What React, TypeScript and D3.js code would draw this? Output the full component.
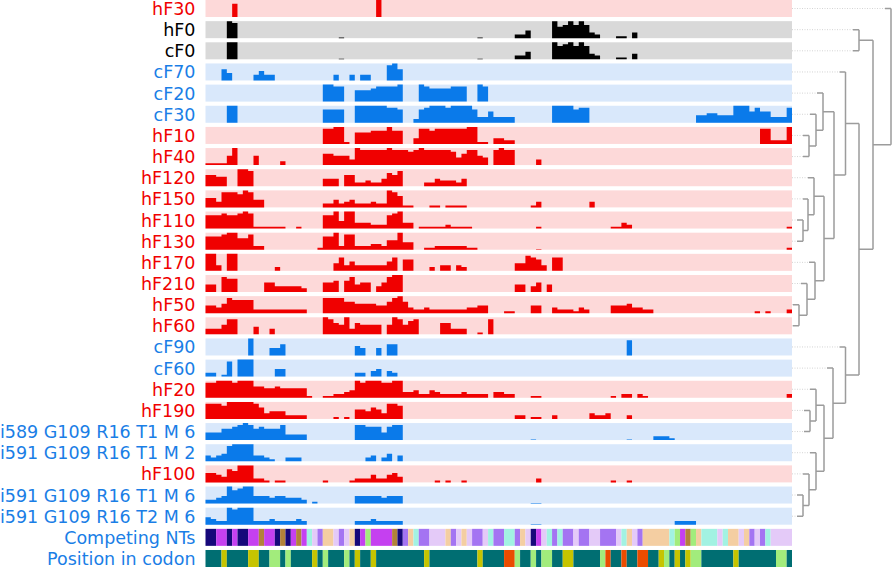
import React from 'react'
import * as d3 from 'd3'

const W = 892
const H = 567
const binCount = 110

const rowLabels = [
  'hF30', 'hF0', 'cF0', 'cF70', 'cF20', 'cF30', 'hF10', 'hF40', 'hF120', 'hF150',
  'hF110', 'hF130', 'hF170', 'hF210', 'hF50', 'hF60', 'cF90', 'cF60', 'hF20', 'hF190',
  'i589 G109 R16 T1 M 6', 'i591 G109 R16 T1 M 2', 'hF100', 'i591 G109 R16 T1 M 6', 'i591 G109 R16 T2 M 6',
]
// h = red family, c = blue family, g = grey/black
const rowGroups = [
  'h', 'g', 'g', 'c', 'c', 'c', 'h', 'h', 'h', 'h',
  'h', 'h', 'h', 'h', 'h', 'h', 'c', 'c', 'h', 'h',
  'c', 'c', 'h', 'c', 'c',
]
// "startBin:levels" runs, level 1-9 of row height, a = hairline
const rowProfiles = [
  '5:7 32:9',
  '4:98 25:a 51:a 58:224 65:967979732 77:11 80:3',
  '4:99 25:a 51:a 58:224 65:978979732 77:11 80:3',
  '3:64 9:3533 24:3 27:3 29:33 34:896',
  '22:9988 28:666788889 40:987777888 51:98',
  '4:99 22:7777 28:999999887 39:2789998999973363333 65:9999788 92:445544499968663338',
  '22:88991 28:666777977 39:38878888889911 54:3322 104:882229',
  '0:111159 9:5 14:2 22:665553 28:9888889888789888887468854 54:8988 62:3',
  '0:6655 6:998 22:444 26:66223224768 41:22433324',
  '0:55388879844 22:22423422232298611 42:11 45:1111 61:13 72:3',
  '0:777877898 9:111111 17:1 22:77949933322278933 40:1111121111 62:1 76:1132 109:1',
  '0:77789966822 21:177928822233255944 41:1122222211 62:a 109:1',
  '0:993 4:99 13:2 24:473533333357 37:66 42:2 44:33 47:32 58:448763 65:77',
  '0:440877 11:55333332 22:556068455035899 58:44 61:35 64:4',
  '0:4435877772222222222 22:8888665555446896322322222223344 56:11 61:44 65:3222132 76:44453322 103:1 105:1 109:2',
  '0:333588 9:4 12:3 22:986593655550598578 44:66333 51:1 53:8',
  '8:9 12:446 28:54 32:4 34:66 79:8',
  '0:22 3:180999 13:44 28:22 31:34 34:32',
  '0:88999899966556555551 22:112234989998899334224322223222203322 61:11 76:1 78:22 81:21 109:2',
  '0:8887999998634442222 24:1 26:1 28:554653887 58:22 61:11 65:2 72:3223 79:2',
  '0:4446678986766683333 28:887774788 61:a 79:a 84:2221',
  '0:3234899993321 15:222 30:23 33:24 36:3',
  '0:554376999221011 22:1 27:1222422453 43:1 45:1 48:1 62:2 76:1 79:1',
  '0:223497899444344333201 28:444443444 61:aa',
  '0:4322989992223222232 28:222322222 61:aa 88:2222',
]

const stripLabels = ['Competing NTs', 'Position in codon']
const competingNTs =
  'NNMMNMNNMM' + 'BMMNBNMBMC' + 'LPEELPLENM' + 'GMMMMBNPEC' + 'PPLLLEPLEL' +
  'PPLCPPCCPE' + 'LNMLCPCPPL' + 'PPLLPPPLCE' + 'LPEEEEECGM' + 'BGECCCLCEE' + 'LEPLPCLLLL'
const codonPosition =
  'TTTYTTTTYY' + 'TTGGTGTTTT' + 'YTGTTTGTYT' + 'TYTTTTTTTT' + 'TYTTTTTTTT' +
  'TYTTTTOOGT' + 'TGTGGTTYYT' + 'TTTTGOTTOT' + 'TOOTTYGTYT' + 'YGGTTTTTTY' + 'TTTTTTTGGT'

const competingColors: Record<string, string> = {
  N: '#16087a', M: '#c540f0', B: '#b2823a', C: '#a2f2e2',
  L: '#e4caf8', P: '#a474f2', E: '#f4cea2', G: '#a2ec7c',
}
const codonColors: Record<string, string> = {
  T: '#006e72', Y: '#c6c400', G: '#a2ec7c', O: '#ea4c00',
}

// [childA, childB, height]; leaves are rows 0..24, new nodes from 25
const linkage: [number, number, number][] = [
  [10, 11, 11], [14, 15, 7], [23, 24, 11], [6, 7, 17], [19, 20, 18],
  [13, 26, 15], [9, 25, 16], [22, 27, 17], [5, 28, 24], [18, 29, 24],
  [21, 32, 24], [8, 31, 22], [12, 30, 23], [4, 33, 31], [36, 37, 32],
  [34, 35, 32], [38, 39, 42], [17, 40, 41], [3, 41, 53.5], [16, 42, 53.5],
  [1, 2, 67], [43, 44, 67], [45, 46, 81], [0, 47, 99],
]

const groupStyle: Record<string, { bg: string; bar: string; text: string }> = {
  h: { bg: '#fdd9d9', bar: '#f00000', text: '#f00000' },
  c: { bg: '#d9e8fb', bar: '#0a7aea', text: '#1a7ee6' },
  g: { bg: '#d9d9d9', bar: '#000000', text: '#000000' },
}

function parseProfile(s: string): (number | null)[] {
  const vals: (number | null)[] = new Array(binCount).fill(null)
  s.split(' ').forEach(seg => {
    const [start, digits] = seg.split(':')
    digits.split('').forEach((ch, j) => {
      const v = ch === 'a' ? 0.3 : +ch
      if (v > 0) vals[+start + j] = v
    })
  })
  return vals
}

function runs(codes: string) {
  const out: { start: number; end: number; code: string }[] = []
  codes.split('').forEach((c, i) => {
    const last = out[out.length - 1]
    if (last && last.code === c) last.end = i + 1
    else out.push({ start: i, end: i + 1, code: c })
  })
  return out
}

export default function App() {
  const allRows = [...rowLabels, ...stripLabels]
  const x = d3.scaleLinear().domain([0, binCount]).range([205.5, 792])
  const y = d3.scaleBand<number>()
    .domain(d3.range(allRows.length))
    .range([0, 567])
    .paddingInner(0.196)
    .paddingOuter(0)
  const bh = y.bandwidth()
  const dx = d3.scaleLinear().domain([0, 99]).range([792, 891])

  const barPath = (vals: (number | null)[], top: number) => {
    const v = d3.scaleLinear().domain([0, 9]).range([top + bh, top])
    let p = ''
    let k = 0
    while (k < binCount) {
      if (vals[k] == null) { k++; continue }
      p += `M${x(k)},${v(0)}`
      while (k < binCount && vals[k] != null) {
        p += `L${x(k)},${v(vals[k] as number)}L${x(k + 1)},${v(vals[k] as number)}`
        k++
      }
      p += `L${x(k)},${v(0)}Z`
    }
    return p
  }

  // dendrogram geometry
  const nodeY: number[] = rowLabels.map((_, i) => (y(i) as number) + bh / 2)
  const nodeH: number[] = rowLabels.map(() => 0)
  const solid: string[] = []
  const dotted: string[] = []
  linkage.forEach(([a, b, h], i) => {
    const id = rowLabels.length + i
    nodeY[id] = (nodeY[a] + nodeY[b]) / 2
    nodeH[id] = h
    solid.push(`M${dx(h)},${nodeY[a]}L${dx(h)},${nodeY[b]}`)
    ;[[a, b], [b, a]].forEach(([c, s]) => {
      if (c < rowLabels.length) {
        const dotEnd = Math.max(dx(nodeH[s]), dx(h) - 6)
        dotted.push(`M${dx(0)},${nodeY[c]}L${dotEnd},${nodeY[c]}`)
        solid.push(`M${dotEnd},${nodeY[c]}L${dx(h)},${nodeY[c]}`)
      } else {
        solid.push(`M${dx(nodeH[c])},${nodeY[c]}L${dx(h)},${nodeY[c]}`)
      }
    })
  })

  const strips = [
    { codes: competingNTs, colors: competingColors },
    { codes: codonPosition, colors: codonColors },
  ]

  return (
    <svg width={W} height={H} style={{ position: 'absolute', left: 0, top: 0, background: '#fff' }}
      fontFamily="'DejaVu Sans', Verdana, sans-serif">
      {rowLabels.map((label, i) => {
        const st = groupStyle[rowGroups[i]]
        const top = y(i) as number
        return (
          <g key={i}>
            <rect x={x(0)} y={top} width={x(binCount) - x(0)} height={bh} fill={st.bg} />
            <path d={barPath(parseProfile(rowProfiles[i]), top)} fill={st.bar} />
            <text x={195.5} y={top + bh / 2 + 6.5} textAnchor="end" fontSize={17.5} fill={st.text}>{label}</text>
          </g>
        )
      })}
      {strips.map((s, j) => {
        const i = rowLabels.length + j
        const top = y(i) as number
        return (
          <g key={'s' + j}>
            {runs(s.codes).map((r, k) => (
              <rect key={k} x={x(r.start)} y={top} width={x(r.end) - x(r.start)} height={bh} fill={s.colors[r.code]} />
            ))}
            <text x={195.5} y={top + bh / 2 + 6.5} textAnchor="end" fontSize={17.5} fill="#1a7ee6">{stripLabels[j]}</text>
          </g>
        )
      })}
      <path d={dotted.join('')} stroke="#d4d4d4" strokeWidth={1} strokeDasharray="1,1.5" fill="none" />
      <path d={solid.join('')} stroke="#9c9c9c" strokeWidth={1.5} fill="none" />
    </svg>
  )
}
